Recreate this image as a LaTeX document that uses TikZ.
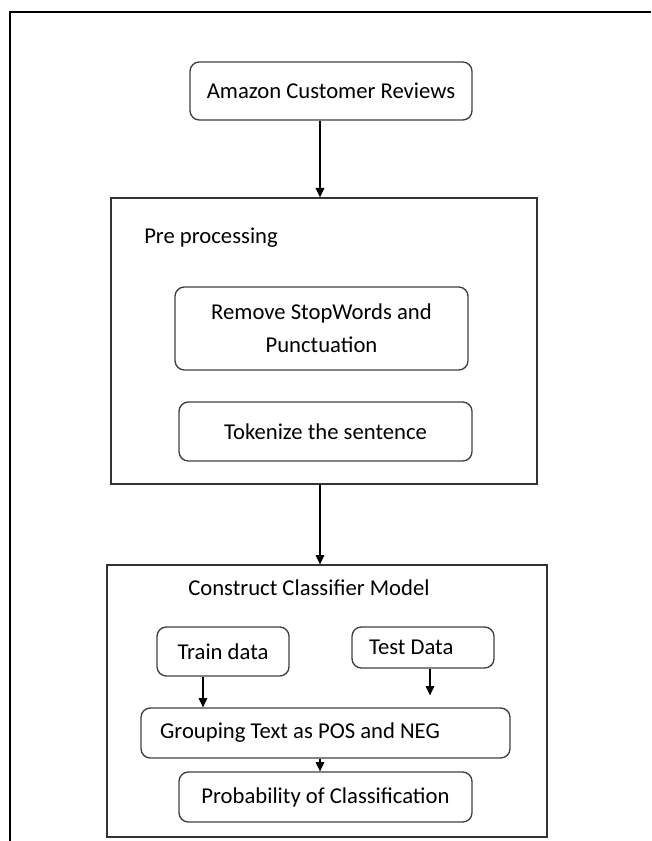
\documentclass[tikz,border=0pt]{standalone}
\usepackage{fontspec}
\setmainfont{Carlito}
\usetikzlibrary{arrows.meta}

\begin{document}
\begin{tikzpicture}[x=0.75pt, y=-0.75pt,
    stepbox/.style={draw=black!75, line width=1pt, rounded corners=7pt, inner sep=0pt,
      font=\fontsize{17}{24.75}\selectfont},
    groupbox/.style={draw=black!80, line width=1pt, inner sep=0pt},
    title/.style={anchor=west, inner sep=0pt, font=\fontsize{17}{20}\selectfont},
    flow/.style={-{Triangle[length=7pt, width=6.5pt]}, line width=0.8pt}]

  \useasboundingbox (0,0) rectangle (651,841);

  % outer frame, only top and left edges show
  \draw[line width=1.5pt] (651,12.5) -- (10,12.5) -- (10,841);

  \node[stepbox, minimum width=211.5pt, minimum height=43.5pt] (amazon) at (331,91) {Amazon Customer Reviews\hspace{9pt}};

  % pre processing stage
  \node[groupbox, minimum width=319.5pt, minimum height=214.5pt] (pre) at (324,341) {};
  \node[title] (pretitle) at (144,238) {Pre processing};
  \node[stepbox, minimum width=219.75pt, minimum height=62.25pt, align=center] (stopwords) at (321.5,328.5) {Remove StopWords and\\Punctuation};
  \node[stepbox, minimum width=219.75pt, minimum height=44.25pt] (tokenize) at (325.5,431.5) {Tokenize the sentence};

  % classifier stage
  \node[groupbox, minimum width=330pt, minimum height=204pt] (model) at (327,701) {};
  \node[title] (modeltitle) at (188,588) {Construct Classifier Model};
  \node[stepbox, minimum width=99pt, minimum height=36.75pt] (train) at (223,651.5) {Train data};
  \node[stepbox, minimum width=106.5pt, minimum height=30.75pt, text width=81pt, align=flush left] (test) at (423,647.5) {Test Data};
  \node[stepbox, minimum width=276.75pt, minimum height=37.5pt, text width=248pt, align=flush left] (group) at (325.5,733) {Grouping Text as POS and NEG};
  \node[stepbox, minimum width=219.75pt, minimum height=37.5pt] (prob) at (325.5,797) {Probability of Classification};

  \coordinate (mid) at (320,0);
  \coordinate (trainx) at (203,0);
  \coordinate (testx) at (430,0);

  \draw[flow] (amazon.south -| mid) -- (pre.north -| mid);
  \draw[flow] (pre.south -| mid) -- (model.north -| mid);
  \draw[flow] (train.south -| trainx) -- (group.north -| trainx);
  \draw[flow, shorten >=9pt] (test.south -| testx) -- (group.north -| testx);
  \draw[flow] (group.south -| mid) -- (prob.north -| mid);
\end{tikzpicture}
\end{document}
